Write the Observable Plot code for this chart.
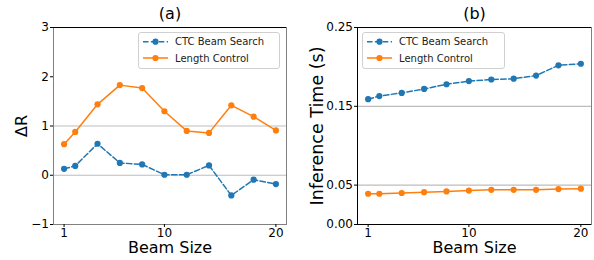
<!DOCTYPE html>
<html><head><meta charset="utf-8">
<script src="https://cdn.jsdelivr.net/npm/d3@7"></script>
<script src="https://cdn.jsdelivr.net/npm/@observablehq/plot@0.6"></script>
<style>
body{margin:0;background:#fff}
#wrap{display:flex;width:594px;height:260px}
svg{display:block}
</style>
</head><body><div id="wrap"></div>
<script>
// ---- data ----
const beamSizes = [1, 2, 4, 6, 8, 10, 12, 14, 16, 18, 20];
const ctcDeltaR = [0.13, 0.19, 0.64, 0.25, 0.22, 0.01, 0.01, 0.20, -0.41, -0.09, -0.18];
const lcDeltaR  = [0.63, 0.88, 1.44, 1.83, 1.77, 1.30, 0.90, 0.86, 1.42, 1.19, 0.91];
const ctcTime   = [0.159, 0.163, 0.167, 0.172, 0.178, 0.182, 0.184, 0.185, 0.189, 0.202, 0.204];
const lcTime    = [0.039, 0.039, 0.040, 0.041, 0.042, 0.043, 0.044, 0.044, 0.044, 0.045, 0.0455];
const xTicks = [1, 10, 20];
const yTicksA = [-1, 0, 1, 2, 3];
const yTicksB = [0, 0.05, 0.15, 0.25];
const refLinesA = [0, 1];
const refLinesB = [0.05, 0.15];
const seriesNames = ["CTC Beam Search", "Length Control"];
const titles = ["(a)", "(b)"];
const yLabels = ["ΔR", "Inference Time (s)"];
const xLabel = "Beam Size";

const BLUE = "#1f77b4", ORANGE = "#ff7f0e";
const FONT = "DejaVu Sans";

function rows(vals) { return beamSizes.map((b, i) => ({x: b, y: vals[i]})); }

function panel(o) {
  const ctc = rows(o.ctc), lc = rows(o.lc);
  const chart = Plot.plot({
    width: 297, height: 260,
    marginLeft: o.ml, marginRight: o.mr, marginTop: 27, marginBottom: 36,
    style: {fontFamily: FONT, fontSize: "12px", background: "white", color: "black"},
    x: {domain: [0.05, 20.95]},
    y: {domain: o.yDomain},
    marks: [
      Plot.ruleY(o.refs, {stroke: "#bdbdbd", strokeWidth: 1.2}),
      Plot.frame({stroke: "#808080", strokeWidth: 1}),
      Plot.ruleY([o.yDomain[1]], {stroke: "black", strokeWidth: 1}),
      ...(o.blackLB ? [Plot.ruleY([o.yDomain[0]], {stroke: "black"}), Plot.ruleX([0.05], {stroke: "black"})] : []),
      Plot.axisX({ticks: xTicks, tickSize: 3, tickPadding: 1, fontSize: 12, label: null, tickFormat: d3.format("d")}),
      Plot.axisY({ticks: o.yTicks, tickSize: 3, tickPadding: 1.5, fontSize: 12, label: null, tickFormat: o.yFmt}),
      Plot.line(ctc, {x: "x", y: "y", stroke: BLUE, strokeWidth: 1.5, strokeDasharray: "5.5,2.4"}),
      Plot.dot(ctc, {x: "x", y: "y", r: 3.1, fill: BLUE}),
      Plot.line(lc, {x: "x", y: "y", stroke: ORANGE, strokeWidth: 1.5}),
      Plot.dot(lc, {x: "x", y: "y", r: 3.1, fill: ORANGE}),
      Plot.text([o.title], {frameAnchor: "top", lineAnchor: "middle", dy: -14, fontSize: 16, fill: "black"}),
      Plot.text([xLabel], {frameAnchor: "bottom", lineAnchor: "middle", dy: 23.5, fontSize: 16, fill: "black"}),
      Plot.text([o.ylabel], {frameAnchor: "left", textAnchor: "middle", lineAnchor: "middle", dx: -o.ylabOff, rotate: -90, fontSize: o.ylabSize, fill: "black"})
    ]
  });
  // legend
  const svg = d3.select(chart);
  const g = svg.append("g").attr("transform", `translate(${o.legX},32)`)
    .attr("text-anchor", "start");
  g.append("rect").attr("x", 0.5).attr("y", 0.5).attr("width", o.legW).attr("height", 36)
    .attr("rx", 2.5).attr("fill", "white").attr("fill-opacity", 0.8).attr("stroke", "#d0d0d0");
  const items = [{c: BLUE, dash: "5.5,2.4"}, {c: ORANGE, dash: null}];
  items.forEach((it, i) => {
    const yy = 9.7 + i * 16.3;
    const l = g.append("line").attr("x1", 5).attr("x2", 30).attr("y1", yy).attr("y2", yy)
      .attr("stroke", it.c).attr("stroke-width", 1.5).attr("fill", "none");
    if (it.dash) l.attr("stroke-dasharray", it.dash);
    g.append("circle").attr("cx", 17.5).attr("cy", yy).attr("r", 3.1).attr("fill", it.c).attr("stroke", "none");
    g.append("text").attr("x", 37).attr("y", yy).attr("dy", "0.35em").attr("text-anchor", "start")
      .attr("font-size", 10).attr("font-family", FONT).attr("fill", "#222").text(seriesNames[i]);
  });
  return chart;
}

const wrap = document.getElementById("wrap");
wrap.append(panel({ml: 53, mr: 11, yDomain: [-1, 3], yTicks: yTicksA, yFmt: d3.format("d"),
  refs: refLinesA, ctc: ctcDeltaR, lc: lcDeltaR, title: titles[0], ylabel: yLabels[0], ylabOff: 32, ylabSize: 16,
  legX: 138, legW: 141, blackLB: false}));
wrap.append(panel({ml: 60, mr: 3, yDomain: [0, 0.25], yTicks: yTicksB, yFmt: d3.format(".2f"),
  refs: refLinesB, ctc: ctcTime, lc: lcTime, title: titles[1], ylabel: yLabels[1], ylabOff: 40, ylabSize: 17.5,
  legX: 65, legW: 142, blackLB: true}));
</script>
</body></html>
